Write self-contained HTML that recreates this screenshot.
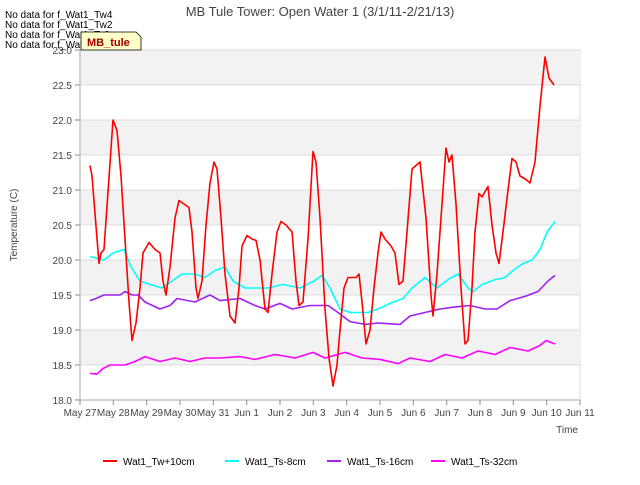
<!DOCTYPE html>
<html><head><meta charset="utf-8"><style>
body{margin:0;background:#fff;font-family:"Liberation Sans","DejaVu Sans",sans-serif}
svg text{font-family:"Liberation Sans","DejaVu Sans",sans-serif}
</style></head><body>
<svg id="chart" width="640" height="480" viewBox="0 0 640 480" xmlns="http://www.w3.org/2000/svg">
<rect width="640" height="480" fill="#fff"/>
<g id="bands"></g><g id="grid"></g><g id="axes"></g><g id="series"></g>
<text x="320" y="16" text-anchor="middle" font-size="13" fill="#444">MB Tule Tower: Open Water 1 (3/1/11-2/21/13)</text>
<text transform="translate(17,225) rotate(-90)" text-anchor="middle" font-size="10" fill="#444">Temperature (C)</text>
<text x="578" y="433" text-anchor="end" font-size="10" fill="#444">Time</text>
<g font-size="10" fill="#000">
<text x="5" y="18">No data for f_Wat1_Tw4</text>
<text x="5" y="28">No data for f_Wat1_Tw2</text>
<text x="5" y="38">No data for f_Wat1_Ts2</text>
<text x="5" y="48">No data for f_Wat1_Ts4</text>
</g>
<g>
<path d="M81,32 L136,32 L141,37 L141,50 L81,50 Z" fill="#ffffc8" stroke="#000" stroke-width="0.8"/>
<text x="87" y="46" font-size="11" font-weight="bold" fill="#a00000">MB_tule</text>
</g>
<g id="legend" font-size="10" fill="#000"></g>
</svg>
<script>
const yTicks=[18.0,18.5,19.0,19.5,20.0,20.5,21.0,21.5,22.0,22.5,23.0];
const xTickLabels=["May 27","May 28","May 29","May 30","May 31","Jun 1","Jun 2","Jun 3","Jun 4","Jun 5","Jun 6","Jun 7","Jun 8","Jun 9","Jun 10","Jun 11"];
const seriesNames=["Wat1_Tw+10cm","Wat1_Ts-8cm","Wat1_Ts-16cm","Wat1_Ts-32cm"];
const seriesColors=["#ff0000","#00ffff","#a020f0","#ff00ff"];
const twDays=[0.30,0.36,0.57,0.63,0.72,0.99,1.11,1.23,1.35,1.47,1.56,1.68,1.80,1.89,2.01,2.07,2.25,2.40,2.49,2.58,2.70,2.85,2.97,3.12,3.27,3.36,3.48,3.54,3.66,3.78,3.90,4.02,4.11,4.23,4.35,4.50,4.65,4.77,4.86,5.01,5.16,5.28,5.40,5.55,5.64,5.76,5.91,6.03,6.18,6.36,6.48,6.57,6.69,6.84,6.99,7.08,7.20,7.35,7.47,7.59,7.71,7.80,7.92,8.04,8.28,8.37,8.46,8.58,8.70,8.82,8.94,9.03,9.15,9.33,9.45,9.57,9.69,9.81,9.96,10.08,10.20,10.38,10.53,10.59,10.71,10.86,10.98,11.07,11.16,11.28,11.43,11.55,11.64,11.76,11.85,11.97,12.06,12.24,12.36,12.48,12.57,12.69,12.84,12.96,13.08,13.20,13.38,13.50,13.65,13.80,13.95,14.07,14.22];
const twVals=[21.35,21.2,19.95,20.1,20.15,22.0,21.85,21.2,20.3,19.4,18.85,19.1,19.6,20.1,20.2,20.25,20.15,20.1,19.7,19.5,19.9,20.6,20.85,20.8,20.75,20.4,19.6,19.45,19.7,20.5,21.1,21.4,21.3,20.6,19.8,19.2,19.1,19.6,20.2,20.35,20.3,20.28,20.0,19.3,19.25,19.8,20.4,20.55,20.5,20.4,19.7,19.35,19.4,20.3,21.55,21.4,20.6,19.3,18.6,18.2,18.5,19.0,19.6,19.75,19.75,19.8,19.4,18.8,19.0,19.6,20.1,20.4,20.3,20.2,20.1,19.65,19.7,20.4,21.3,21.35,21.4,20.6,19.5,19.2,19.8,20.8,21.6,21.4,21.5,20.8,19.6,18.8,18.85,19.6,20.4,20.95,20.9,21.05,20.5,20.1,19.95,20.4,21.0,21.45,21.4,21.2,21.15,21.1,21.4,22.2,22.9,22.6,22.5];
const ts8Days=[0.30,0.45,0.72,0.99,1.32,1.53,1.80,2.10,2.46,2.76,3.06,3.45,3.75,4.05,4.35,4.59,4.95,5.34,5.64,6.09,6.60,7.02,7.26,7.50,7.80,8.10,8.64,8.94,9.30,9.69,9.96,10.35,10.71,11.04,11.34,11.64,11.79,12.06,12.45,12.75,12.99,13.29,13.56,13.80,14.01,14.25];
const ts8Vals=[20.05,20.03,20.0,20.1,20.15,19.9,19.7,19.65,19.6,19.7,19.8,19.8,19.75,19.85,19.9,19.7,19.6,19.6,19.6,19.65,19.6,19.7,19.78,19.6,19.3,19.25,19.25,19.3,19.38,19.45,19.6,19.75,19.6,19.72,19.8,19.6,19.55,19.65,19.72,19.75,19.85,19.95,20.0,20.15,20.4,20.55];
const ts16Days=[0.30,0.48,0.72,1.20,1.35,1.56,1.74,1.95,2.40,2.70,2.91,3.45,3.90,4.20,4.80,5.25,5.55,6.00,6.36,6.90,7.44,7.74,8.10,8.55,8.94,9.60,9.90,10.35,10.80,11.25,11.70,12.15,12.51,12.90,13.35,13.74,14.04,14.25];
const ts16Vals=[19.42,19.45,19.5,19.5,19.55,19.5,19.5,19.4,19.3,19.35,19.45,19.4,19.5,19.42,19.45,19.35,19.3,19.38,19.3,19.35,19.35,19.25,19.12,19.08,19.1,19.08,19.2,19.25,19.3,19.33,19.35,19.3,19.3,19.42,19.48,19.55,19.7,19.78];
const ts32Days=[0.30,0.51,0.69,0.90,1.35,1.65,1.95,2.40,2.85,3.30,3.75,4.20,4.80,5.25,5.85,6.45,6.99,7.35,7.95,8.46,9.00,9.54,9.90,10.50,10.95,11.46,11.94,12.45,12.90,13.44,13.80,13.98,14.25];
const ts32Vals=[18.38,18.37,18.45,18.5,18.5,18.55,18.62,18.55,18.6,18.55,18.6,18.6,18.62,18.58,18.65,18.6,18.68,18.6,18.68,18.6,18.58,18.52,18.6,18.55,18.65,18.6,18.7,18.65,18.75,18.7,18.78,18.85,18.8];

const NS="http://www.w3.org/2000/svg";
const X0=80,X1=580,Y0=400,Y1=50,YMIN=18,YMAX=23,DMAX=15;
const xs=d=>X0+(d/DMAX)*(X1-X0);
const ys=v=>Y0-(v-YMIN)/(YMAX-YMIN)*(Y0-Y1);
function mk(tag,attrs,parent){const e=document.createElementNS(NS,tag);for(const k in attrs)e.setAttribute(k,attrs[k]);parent.appendChild(e);return e;}
const bands=document.getElementById('bands'),grid=document.getElementById('grid'),axes=document.getElementById('axes'),ser=document.getElementById('series'),leg=document.getElementById('legend');
mk('rect',{x:X0,y:Y1,width:X1-X0,height:Y0-Y1,fill:'#fff',stroke:'#ddd'},bands);
for(let i=0;i<yTicks.length-1;i++){
  if(i%2===1){const b=mk('rect',{x:X0,y:ys(yTicks[i+1]),width:X1-X0,height:ys(yTicks[i])-ys(yTicks[i+1]),fill:'#f2f2f2'},bands);
  
  }
}
yTicks.forEach(v=>{
  const l=mk('line',{x1:X0,x2:X1,y1:ys(v),y2:ys(v),stroke:'#dcdcdc','stroke-width':1},grid);
  
  
  const t=mk('line',{x1:X0-5,x2:X0,y1:ys(v),y2:ys(v),stroke:'#888'},axes);
  
  
  const tx=mk('text',{x:X0-8,y:ys(v)+4,'text-anchor':'end','font-size':10,fill:'#444'},axes);
  tx.textContent=v.toFixed(1);
  
  
});
xTickLabels.forEach((s,i)=>{
  const t=mk('line',{x1:xs(i),x2:xs(i),y1:Y0,y2:Y0+5,stroke:'#888'},axes);
  
  
  const tx=mk('text',{x:xs(i),y:Y0+16,'text-anchor':'middle','font-size':10,fill:'#444'},axes);
  tx.textContent=s;
  
  
});
mk('line',{x1:X0,x2:X0,y1:Y1,y2:Y0,stroke:'#aaa'},axes);
mk('line',{x1:X0,x2:X1,y1:Y0,y2:Y0,stroke:'#aaa'},axes);
const allDays=[twDays,ts8Days,ts16Days,ts32Days],allVals=[twVals,ts8Vals,ts16Vals,ts32Vals];
const order=[3,2,1,0];
order.forEach(k=>{
  const pts=allDays[k].map((d,i)=>xs(d).toFixed(1)+','+ys(allVals[k][i]).toFixed(1)).join(' ');
  const p=mk('polyline',{points:pts,fill:'none',stroke:seriesColors[k],'stroke-width':1.6,'stroke-linejoin':'round'},ser);
  
  
});
const legX=[103,225,327,431];
seriesNames.forEach((n,k)=>{
  const l=mk('line',{x1:legX[k],x2:legX[k]+14,y1:461,y2:461,stroke:seriesColors[k],'stroke-width':2},leg);
  
  
  const t=mk('text',{x:legX[k]+20,y:465,'font-size':10,fill:'#000'},leg);
  t.textContent=n;
  
  
});
</script>
</body></html>
